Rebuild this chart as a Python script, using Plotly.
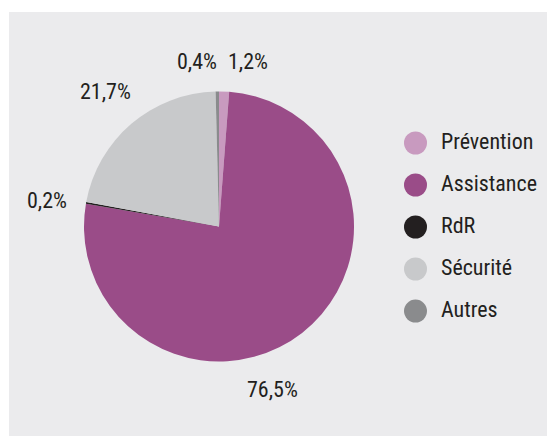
import plotly.graph_objects as go

# Répartition (%) - lecture du graphique
categories = ["Prévention", "Assistance", "RdR", "Sécurité", "Autres"]
values = [1.2, 76.5, 0.2, 21.7, 0.4]
colors = ["#c89abf", "#9a4c88", "#231f20", "#c8c9cb", "#8a8b8d"]

FONT = "Roboto Condensed, DejaVu Sans Condensed, sans-serif"
TEXT_COLOR = "#231f20"
BG = "#ebebed"

fig = go.Figure()

fig.add_trace(
    go.Pie(
        labels=categories,
        values=values,
        marker=dict(colors=colors, line=dict(width=0)),
        sort=False,
        direction="clockwise",
        rotation=0,
        textinfo="none",
        showlegend=False,
        domain=dict(x=[0.1394, 0.6413], y=[0.1757, 0.8127]),
    )
)

# légende : pastilles rondes + libellés
fig.add_trace(
    go.Scatter(
        x=[0] * len(categories),
        y=list(range(len(categories))),
        mode="markers+text",
        marker=dict(size=23, color=colors),
        text=["  " + c for c in categories],
        textposition="middle right",
        textfont=dict(family=FONT, size=22, color=TEXT_COLOR),
        showlegend=False,
        hoverinfo="skip",
    )
)

# étiquettes des pourcentages (positions en px dans l'image)
label_pos = {
    "Prévention": (248, 61),
    "Assistance": (272, 389),
    "RdR": (47, 200),
    "Sécurité": (105, 92),
    "Autres": (197, 61),
}
# zone grise : x 9..547, y 12..436
X0, Y0, X1, Y1 = 9, 12, 547, 436
for cat, v in zip(categories, values):
    px_, py_ = label_pos[cat]
    fig.add_annotation(
        x=(px_ - X0) / (X1 - X0),
        y=(Y1 - py_) / (Y1 - Y0),
        xref="paper",
        yref="paper",
        text=f"{v:.1f}%".replace(".", ","),
        showarrow=False,
        xanchor="center",
        yanchor="middle",
        font=dict(family=FONT, size=22, color=TEXT_COLOR),
    )

fig.update_layout(
    width=547,
    height=436,
    margin=dict(l=X0, r=0, t=Y0, b=0),
    paper_bgcolor="white",
    plot_bgcolor=BG,
    xaxis=dict(visible=False, range=[-406.5, 131.5], fixedrange=True),
    yaxis=dict(visible=False, range=[6.976, -3.119], fixedrange=True),
)

# figure collée au coin de la page, sans barres de défilement ni modebar
fig.write_html(
    "out.html",
    config={"displayModeBar": False},
    post_script="document.body.style.margin = '0'; document.body.style.overflow = 'hidden';",
)
